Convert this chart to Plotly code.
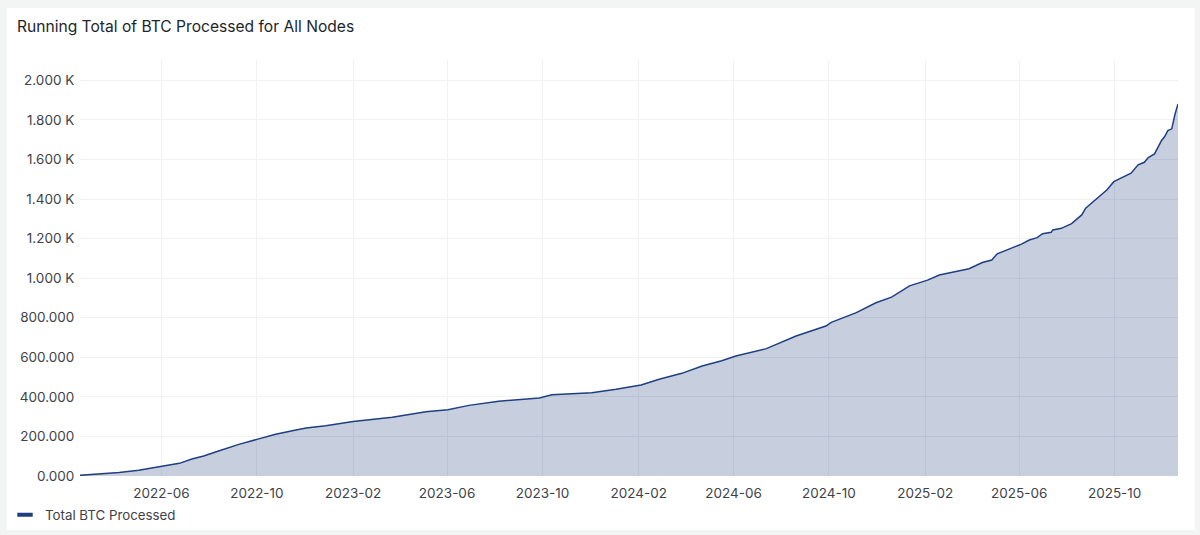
import plotly.graph_objects as go

title = "Running Total of BTC Processed for All Nodes"
series_name = "Total BTC Processed"

dates = ["2022-02-16","2022-03-13","2022-04-08","2022-05-03","2022-06-01","2022-06-24","2022-07-10","2022-07-25",
"2022-08-14","2022-09-08","2022-10-01","2022-10-25","2022-11-20","2022-12-03","2022-12-28","2023-02-01",
"2023-03-23","2023-05-05","2023-06-02","2023-06-29","2023-08-06","2023-09-27","2023-10-13","2023-12-03",
"2024-01-03","2024-02-04","2024-02-27","2024-03-27","2024-04-22","2024-05-17","2024-06-04","2024-07-13",
"2024-08-20","2024-09-27","2024-10-04","2024-11-05","2024-11-30","2024-12-20","2025-01-12","2025-02-04",
"2025-02-19","2025-03-08","2025-03-29","2025-04-15","2025-04-27","2025-05-04","2025-05-17","2025-06-04",
"2025-06-14","2025-06-24","2025-07-01","2025-07-12","2025-07-14","2025-07-25","2025-08-07","2025-08-20",
"2025-08-25","2025-09-07","2025-09-21","2025-09-30","2025-10-11","2025-10-22","2025-10-31","2025-11-08",
"2025-11-13","2025-11-21","2025-11-30","2025-12-04","2025-12-08","2025-12-13","2025-12-17","2025-12-21"]
values = [3,10,18,29,47,64,86,101,128,160,185,211,233,243,254,275,297,325,335,357,378,394,411,421,438,460,
489,519,556,583,607,644,708,758,777,826,876,904,961,990,1016,1032,1048,1079,1092,1123,1143,1172,1193,1205,
1225,1232,1244,1252,1276,1320,1354,1396,1446,1488,1510,1531,1573,1586,1610,1628,1696,1716,1746,1755,1826,1881]

x_ticks = ["2022-06-01","2022-10-01","2023-02-01","2023-06-01","2023-10-01","2024-02-01",
           "2024-06-01","2024-10-01","2025-02-01","2025-06-01","2025-10-01"]
x_labels = ["2022-06","2022-10","2023-02","2023-06","2023-10","2024-02","2024-06","2024-10","2025-02","2025-06","2025-10"]
y_ticks = [0,200,400,600,800,1000,1200,1400,1600,1800,2000]
y_labels = ["0.000","200.000","400.000","600.000","800.000","1.000 K","1.200 K","1.400 K","1.600 K","1.800 K","2.000 K"]

LINE = "#1f3f80"
FONT = "Inter"
W, H = 1200, 535

fig = go.Figure()
fig.add_trace(go.Scatter(x=dates, y=values, mode="lines", showlegend=False, hoverinfo="skip",
                         line=dict(color=LINE, width=1.5), fill="tozeroy", fillcolor="rgba(31,63,128,0.25)"))
fig.add_trace(go.Scatter(x=[None], y=[None], mode="markers", name=series_name,
                         marker=dict(symbol="line-ew", size=11, line=dict(color=LINE, width=4), color=LINE)))

fig.update_layout(
    width=W, height=H, autosize=False,
    margin=dict(l=0, r=0, t=0, b=0, pad=0),
    paper_bgcolor="#f3f5f4", plot_bgcolor="rgba(0,0,0,0)",
    font=dict(family=FONT, size=13.5, color="#3f4349"),
    title=dict(text=title, x=17/W, xref="container", xanchor="left", y=1-27/H, yref="container",
               yanchor="middle", font=dict(family=FONT, size=15.6, color="#22262c", weight=400)),
    xaxis=dict(type="date", automargin=False, domain=[80/W, 1178/W], range=["2022-02-17","2025-12-21"],
               tickvals=x_ticks, ticktext=x_labels,
               showgrid=True, gridcolor="#eff1f3", gridwidth=1, zeroline=False, showline=False,
               ticks="outside", ticklen=5, tickcolor="rgba(0,0,0,0)"),
    yaxis=dict(automargin=False, domain=[1-476/H, 1-60/H], range=[0,2103], tickvals=y_ticks, ticktext=y_labels,
               showgrid=True, gridcolor="#eff1f3",
               gridwidth=1, zeroline=False, showline=False, ticks="outside", ticklen=2, tickcolor="rgba(0,0,0,0)"),
    legend=dict(x=5/W, xanchor="left", y=1-515/H, yanchor="middle", orientation="h",
                bgcolor="rgba(0,0,0,0)", font=dict(family=FONT, size=13.3, color="#3f4349")),
    shapes=[dict(type="rect", xref="paper", yref="paper", layer="below",
                 x0=7/W, x1=1195/W, y0=1-530/H, y1=1-8/H,
                 fillcolor="#ffffff", line=dict(width=0))],
)
fig.write_html("out.html", config={"displayModeBar": False},
               post_script="document.body.style.margin='0';document.documentElement.style.overflow='hidden';")
